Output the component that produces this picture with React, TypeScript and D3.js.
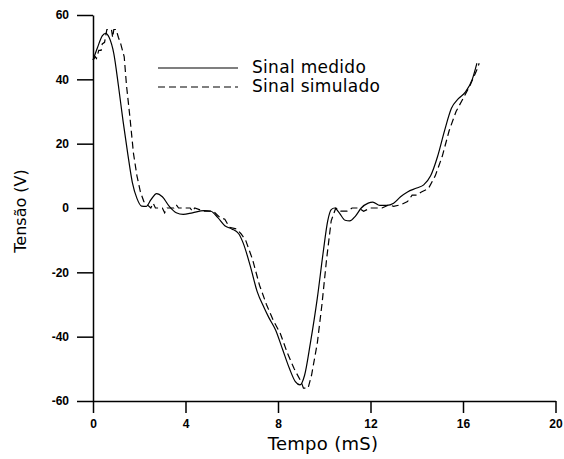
import React, { useEffect, useRef } from 'react';
import * as d3 from 'd3';

// measured signal (t in ms, v in volts)
const medidoT = [0, 0.2, 0.4, 0.55, 0.7, 0.9, 1.1, 1.3, 1.5, 1.7, 1.9, 2.1, 2.3, 2.5, 2.75, 3.0, 3.3, 3.6, 3.9, 4.3, 4.8, 5.1, 5.4, 5.7, 6.0, 6.3, 6.5, 6.8, 7.1, 7.4, 7.6, 7.9, 8.2, 8.5, 8.75, 8.95, 9.15, 9.4, 9.7, 9.95, 10.15, 10.3, 10.45, 10.65, 10.9, 11.1, 11.35, 11.6, 11.9, 12.1, 12.4, 12.7, 13.0, 13.3, 13.6, 14.0, 14.3, 14.6, 14.9, 15.2, 15.5, 15.8, 16.1, 16.4, 16.6];
const medidoV = [46, 50, 53.5, 54.3, 53, 48, 38, 27, 17, 8, 3, 0.6, 0.5, 2.5, 4.5, 3.5, 0.5, -1.5, -2, -1.5, -0.8, -1, -3, -5.5, -6.5, -8, -11, -18, -26, -31, -34, -38, -44, -50, -54, -55, -52, -42, -28, -14, -4, -0.5, 0, -1.5, -3.8, -4, -2.5, 0, 1.5, 1.8, 0.8, 0.8, 1.5, 3.5, 5, 6.2, 7.2, 10, 16, 24, 31, 34, 36, 40, 45];

// simulated signal
const simuladoT = [0, 0.1, 0.15, 0.25, 0.35, 0.4, 0.5, 0.6, 0.8, 0.85, 0.9, 1.0, 1.1, 1.2, 1.35, 1.45, 1.6, 1.75, 1.9, 2.05, 2.2, 2.35, 2.5, 2.6, 2.7, 3.0, 3.1, 3.2, 3.5, 3.6, 3.7, 4.2, 4.3, 4.4, 4.8, 5.2, 5.5, 5.7, 5.9, 6.2, 6.4, 6.6, 6.9, 7.2, 7.5, 7.8, 8.1, 8.4, 8.7, 9.0, 9.1, 9.3, 9.45, 9.7, 9.9, 10.1, 10.3, 10.5, 10.7, 11.0, 11.2, 11.5, 11.7, 12.0, 12.5, 12.8, 13.0, 13.3, 13.6, 13.8, 14.0, 14.2, 14.5, 14.8, 15.1, 15.4, 15.7, 16.0, 16.3, 16.6, 16.7];
const simuladoV = [46, 47, 46.5, 49, 49, 51, 51.5, 55.5, 55.5, 53, 55.5, 55.5, 53, 51, 47, 38, 28, 17, 10, 5, 2, 1, 0, 1.5, 0, 0, -1.5, 0, 0, 1, 0, 0, -1, 0, -1, -1, -3, -3.5, -6, -6.5, -8, -10, -16, -24, -30, -35, -39, -45, -50, -54, -56, -56, -52, -42, -30, -16, -4, 0, -1, -1, 0, 0, -1, 0, 0, 1, 0.5, 1, 2, 4, 4, 5, 6, 10, 16, 24, 30, 34, 38, 43, 45];

const xTicks = [0, 4, 8, 12, 16, 20];
const yTicks = [-60, -40, -20, 0, 20, 40, 60];
const seriesNames = ['Sinal medido', 'Sinal simulado'];

const App = () => {
  const svgRef = useRef(null);

  useEffect(() => {
    const svg = d3.select(svgRef.current);
    svg.selectAll('*').remove();

    const margin = { top: 15, right: 8.5, bottom: 58, left: 93 };
    const width = 564 - margin.left - margin.right;
    const height = 459 - margin.top - margin.bottom;

    const g = svg.append('g').attr('transform', `translate(${margin.left}, ${margin.top})`);

    const x = d3.scaleLinear().domain([0, 20]).range([0, width]);
    const y = d3.scaleLinear().domain([-60, 60]).range([height, 0]);

    const tickFont = (sel) => sel
      .style('font-family', 'Liberation Sans, Arial, sans-serif')
      .style('font-weight', 'bold')
      .style('font-size', '12px')
      .attr('fill', '#000');

    const xAxis = g.append('g')
      .attr('transform', `translate(0, ${height})`)
      .call(d3.axisBottom(x).tickValues(xTicks).tickFormat(d => String(d)).tickSize(12).tickSizeOuter(0).tickPadding(6));
    tickFont(xAxis.selectAll('text'));

    const yAxis = g.append('g')
      .call(d3.axisLeft(y).tickValues(yTicks).tickFormat(d => String(d)).tickSize(16).tickSizeOuter(0).tickPadding(8));
    tickFont(yAxis.selectAll('text'));

    g.selectAll('.domain, .tick line').attr('stroke', '#000').attr('stroke-width', 1.5);

    const line = d3.line().x(d => x(d[0])).y(d => y(d[1])).curve(d3.curveMonotoneX);
    const medido = medidoT.map((t, i) => [t, medidoV[i]]);
    const simulado = simuladoT.map((t, i) => [t, simuladoV[i]]);

    g.append('path')
      .datum(simulado)
      .attr('fill', 'none')
      .attr('stroke', '#000')
      .attr('stroke-width', 1.2)
      .attr('stroke-dasharray', '7,4')
      .attr('d', d3.line().x(d => x(d[0])).y(d => y(d[1])));

    g.append('path')
      .datum(medido)
      .attr('fill', 'none')
      .attr('stroke', '#000')
      .attr('stroke-width', 1.2)
      .attr('d', line);

    // legend
    const legend = svg.append('g');
    seriesNames.forEach((name, i) => {
      const ly = 68 + i * 19;
      legend.append('line')
        .attr('x1', 158).attr('x2', 238)
        .attr('y1', ly).attr('y2', ly)
        .attr('stroke', '#000')
        .attr('stroke-width', 1.2)
        .attr('stroke-dasharray', i === 1 ? '7,4' : null);
      legend.append('text')
        .attr('x', 252).attr('y', ly + 5)
        .style('font-family', 'DejaVu Sans, sans-serif')
        .style('font-size', '17px')
        .style('letter-spacing', '0.3px')
        .text(name);
    });

    svg.append('text')
      .attr('x', 323).attr('y', 450)
      .attr('text-anchor', 'middle')
      .style('font-family', 'DejaVu Sans, sans-serif')
      .style('font-size', '18px')
      .style('letter-spacing', '0.3px')
      .text('Tempo (mS)');

    svg.append('text')
      .attr('transform', 'translate(26, 211) rotate(-90)')
      .attr('text-anchor', 'middle')
      .style('font-family', 'DejaVu Sans, sans-serif')
      .style('font-size', '16px')
      .text('Tensão (V)');
  }, []);

  return (
    <svg ref={svgRef} width={564} height={459}
      style={{ position: 'absolute', left: 0, top: 0, background: '#fff' }} />
  );
};

export default App;
